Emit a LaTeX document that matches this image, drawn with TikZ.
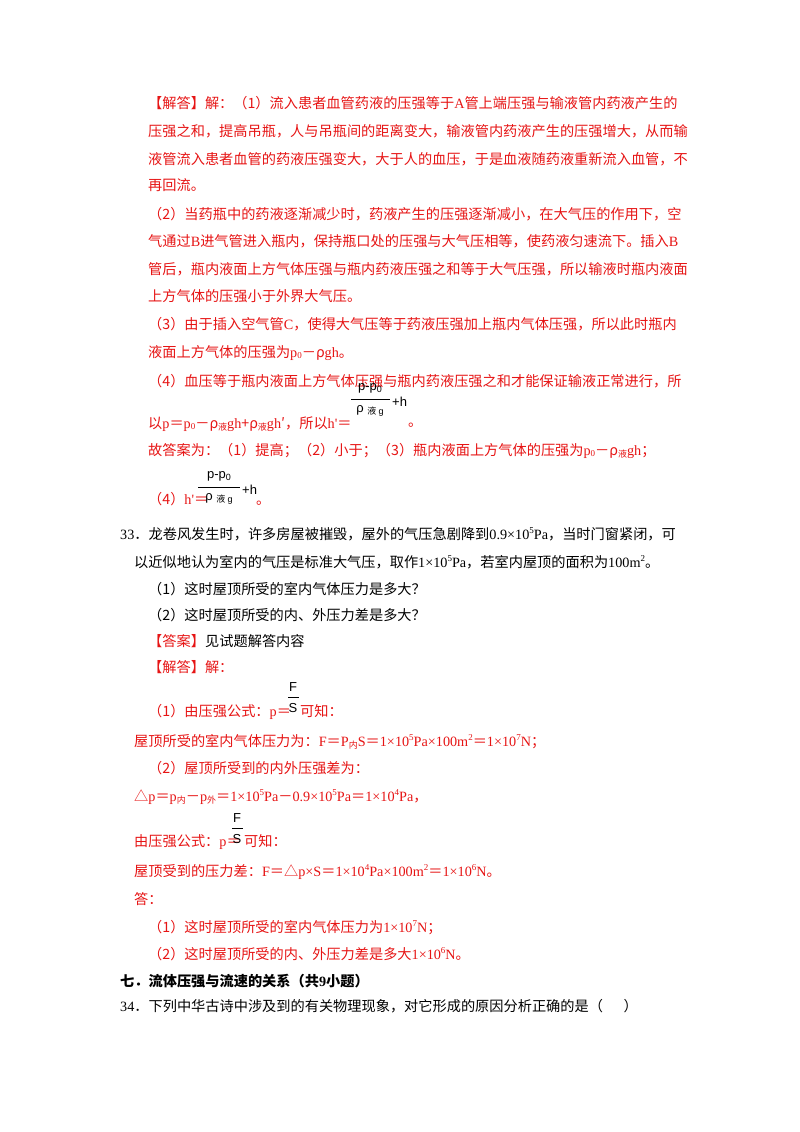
\documentclass[tikz,border=0pt]{standalone}
\usepackage{fontspec}
\setmainfont{Noto Sans CJK SC}
\newfontfamily\cjkf{Noto Sans CJK SC}
\newfontfamily\lat{Liberation Serif}
\newfontfamily\lsans{Liberation Sans}
\definecolor{ans}{RGB}{230,20,20}
\newcommand\T[3]{\node[anchor=base west,inner sep=0pt] at (#1pt,-#2pt) {#3};}
\newcommand\lsb[1]{\raisebox{-0.3ex}{\fontsize{9}{9}\selectfont #1}}
\newcommand\lsu[1]{\raisebox{0.9ex}{\fontsize{9}{9}\selectfont\lat #1}}
\tikzset{fx/.style={inner sep=0pt,font=\fontsize{13}{14}\selectfont\lsans}}
\begin{document}
\begin{tikzpicture}[every node/.style={font=\fontsize{14.2}{18}\selectfont}]
\useasboundingbox (0,0) rectangle (800pt,-1132pt);
\begin{scope}[every node/.append style={text=ans}]
\T{148}{108}{【解答】解：（1）流入患者血管药液的压强等于{\lat A}管上端压强与输液管内药液产生的}
\T{148}{136}{压强之和，提高吊瓶，人与吊瓶间的距离变大，输液管内药液产生的压强增大，从而输}
\T{148}{164}{液管流入患者血管的药液压强变大，大于人的血压，于是血液随药液重新流入血管，不}
\T{148}{190}{再回流。}
\T{148}{219}{（2）当药瓶中的药液逐渐减少时，药液产生的压强逐渐减小，在大气压的作用下，空}
\T{148}{246}{气通过{\lat B}进气管进入瓶内，保持瓶口处的压强与大气压相等，使药液匀速流下。插入{\lat B}}
\T{148}{274}{管后，瓶内液面上方气体压强与瓶内药液压强之和等于大气压强，所以输液时瓶内液面}
\T{148}{301}{上方气体的压强小于外界大气压。}
\T{148}{329}{（3）由于插入空气管{\lat C}，使得大气压等于药液压强加上瓶内气体压强，所以此时瓶内}
\T{148}{357}{液面上方气体的压强为{\lat p\lsb{0}}－ρ{\lat gh}。}
\T{148}{386}{（4）血压等于瓶内液面上方气体压强与瓶内药液压强之和才能保证输液正常进行，所}
\T{148}{428}{以{\lat p}＝{\lat p\lsb{0}}－ρ\lsb{液}{\lat gh}+ρ\lsb{液}{\lat gh}′，所以{\lat h'}＝}
\T{408}{426}{。}
\T{148}{455}{故答案为：（1）提高；（2）小于；（3）瓶内液面上方气体的压强为{\lat p\lsb{0}}－ρ\lsb{液}{\lat gh}；}
\T{148}{504}{（4）{\lat h'}＝}
\T{256}{504}{。}
\T{148}{646}{【答案】}
\T{148}{672}{【解答】解：}
\T{148}{716}{（1）由压强公式：{\lat p}＝}
\T{300}{716}{可知：}
\T{134}{746}{屋顶所受的室内气体压力为：{\lat F}＝{\lat P}\lsb{内}{\lat S}＝{\lat 1×10\lsu{5}Pa×100m\lsu{2}}＝{\lat 1×10\lsu{7}N}；}
\T{148}{773}{（2）屋顶所受到的内外压强差为：}
\T{134}{801}{△{\lat p}＝{\lat p}\lsb{内}－{\lat p}\lsb{外}＝{\lat 1×10\lsu{5}Pa}－{\lat 0.9×10\lsu{5}Pa}＝{\lat 1×10\lsu{4}Pa}，}
\T{134}{846}{由压强公式：{\lat p}＝}
\T{244}{846}{可知：}
\T{134}{876}{屋顶受到的压力差：{\lat F}＝△{\lat p×S}＝{\lat 1×10\lsu{4}Pa×100m\lsu{2}}＝{\lat 1×10\lsu{6}N}。}
\T{134}{904}{答：}
\T{148}{932}{（1）这时屋顶所受的室内气体压力为{\lat 1×10\lsu{7}N}；}
\T{148}{959}{（2）这时屋顶所受的内、外压力差是多大{\lat 1×10\lsu{6}N}。}
\end{scope}
% fraction 1
\node[fx] (n1) at (370pt,-388pt) {p-p\lsb{0}};
\node[fx] (d1) at (370pt,-411pt) {ρ\ \lsb{\cjkf 液}\,\lsb{g}};
\draw[line width=0.8pt] (351pt,-399pt) coordinate (l1a) -- (390pt,-399pt) coordinate (l1b);
\node[fx,anchor=west] (h1) at (392pt,-402pt) {+h};
% fraction 2
\node[fx] (n2) at (219pt,-476pt) {p-p\lsb{0}};
\node[fx] (d2) at (219pt,-499pt) {ρ\ \lsb{\cjkf 液}\,\lsb{g}};
\draw[line width=0.8pt] (198pt,-487pt) coordinate (l2a) -- (240pt,-487pt) coordinate (l2b);
\node[fx,anchor=west] (h2) at (242pt,-490pt) {+h};
% F/S
\node[fx] (f1) at (293pt,-687pt) {F};
\draw[line width=0.8pt] (288pt,-697pt) coordinate (l3a) -- (299pt,-697pt) coordinate (l3b);
\node[fx] (s1) at (293pt,-708pt) {S};
\node[fx] (f2) at (237pt,-818pt) {F};
\draw[line width=0.8pt] (232pt,-828pt) coordinate (l4a) -- (243pt,-828pt) coordinate (l4b);
\node[fx] (s2) at (237pt,-839pt) {S};
\T{120}{539}{{\lat 33}．龙卷风发生时，许多房屋被摧毁，屋外的气压急剧降到{\lat 0.9×10\lsu{5}Pa}，当时门窗紧闭，可}
\T{134}{567}{以近似地认为室内的气压是标准大气压，取作{\lat 1×10\lsu{5}Pa}，若室内屋顶的面积为{\lat 100m\lsu{2}}。}
\T{148}{594}{（1）这时屋顶所受的室内气体压力是多大？}
\T{148}{620}{（2）这时屋顶所受的内、外压力差是多大？}
\node[anchor=base west,inner sep=0pt] at (205pt,-646pt) {见试题解答内容};
\node[anchor=base west,inner sep=0pt,font=\fontsize{14.2}{18}\selectfont\bfseries] at (120pt,-986pt) {七．流体压强与流速的关系（共{\lat 9}小题）};
\T{120}{1011}{{\lat 34}．下列中华古诗中涉及到的有关物理现象，对它形成的原因分析正确的是（\quad\ \ ）}
\end{tikzpicture}
\end{document}
